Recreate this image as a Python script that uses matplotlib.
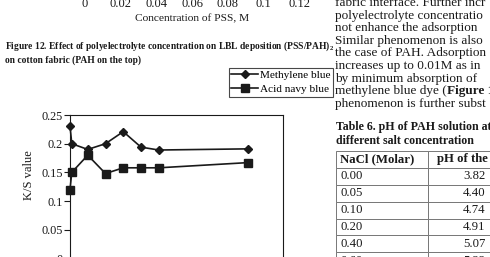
import matplotlib
matplotlib.use("Agg")
import matplotlib.pyplot as plt
from matplotlib.table import Table

plt.rcParams['font.family'] = ['Liberation Serif', 'DejaVu Serif']
plt.rcParams['mathtext.fontset'] = 'custom'
plt.rcParams['mathtext.rm'] = 'Liberation Serif'
plt.rcParams['mathtext.bf'] = 'Liberation Serif:bold'

# ---- data ----
conc = [0, 0.001, 0.01, 0.02, 0.03, 0.04, 0.05, 0.1]
methylene_blue = [0.231, 0.200, 0.190, 0.200, 0.221, 0.194, 0.189, 0.191]
acid_navy_blue = [0.120, 0.150, 0.180, 0.148, 0.158, 0.158, 0.158, 0.167]
y_ticks = [0, 0.05, 0.1, 0.15, 0.2, 0.25]
y_tick_labels = ["0", "0.05", "0.1", "0.15", "0.2", "0.25"]
top_x_ticks = [0, 0.02, 0.04, 0.06, 0.08, 0.1, 0.12]
top_x_labels = ["0", "0.02", "0.04", "0.06", "0.08", "0.1", "0.12"]
table_header = ["NaCl (Molar)", "pH of the PAH solution"]
nacl = ["0.00", "0.05", "0.10", "0.20", "0.40", "0.60"]
ph = ["3.82", "4.40", "4.74", "4.91", "5.07", "5.22"]
body_lines = [
    "fabric interface. Further incr",
    "polyelectrolyte concentratio",
    "not enhance the adsorption",
    "Similar phenomenon is also",
    "the case of PAH. Adsorption",
    "increases up to 0.01M as in",
    "by minimum absorption of",
    "methylene blue dye (Figure 1",
    "phenomenon is further subst",
]

W, H = 490, 257
fig = plt.figure(figsize=(W / 100, H / 100), dpi=100)
fig.patch.set_facecolor('white')

def box(l, t, r, b):
    return [l / W, 1 - b / H, (r - l) / W, (b - t) / H]

ink = '#1a1a1a'

# ---- page overlay for text ----
pg = fig.add_axes([0, 0, 1, 1])
pg.set_xlim(0, W)
pg.set_ylim(H, 0)
pg.axis('off')

# ---- remnant of previous figure (top) ----
top = fig.add_axes(box(85, -60, 299, -9))
top.set_xlim(0, 0.12)
top.set_xticks(top_x_ticks)
top.set_xticklabels(top_x_labels, fontsize=9, color=ink)
top.tick_params(axis='x', length=3, pad=2, color=ink)
top.set_yticks([])
for s in top.spines.values():
    s.set_visible(False)
top.patch.set_alpha(0)
pg.text(192, 19, "Concentration of PSS, M", fontsize=8.2, ha='center', va='center', color=ink)

# ---- caption ----
pg.text(5, 46.5, r"Figure 12. Effect of polyelectrolyte concentration on LBL deposition (PSS/PAH)$_\mathbf{2}$",
        fontsize=6.85, fontweight='bold', ha='left', va='center', color=ink)
pg.text(5, 60, "on cotton fabric (PAH on the top)", fontsize=6.85, fontweight='bold',
        ha='left', va='center', color=ink)

# ---- main chart ----
ax = fig.add_axes(box(70, 115, 283, 258.5))
ax.plot(conc, methylene_blue, color=ink, lw=1.2, marker='D', ms=4.2, label='Methylene blue')
ax.plot(conc, acid_navy_blue, color=ink, lw=1.2, marker='s', ms=5.5, label='Acid navy blue')
ax.set_xlim(0, 0.12)
ax.set_ylim(0, 0.25)
ax.set_yticks(y_ticks)
ax.set_yticklabels(y_tick_labels, fontsize=8.8, color=ink)
ax.set_xticks([])
ax.tick_params(axis='y', length=4, width=0.8, color=ink, pad=1)
for s in ax.spines.values():
    s.set_color(ink)
    s.set_linewidth(0.8)
ax.set_ylabel("K/S value", fontsize=9, color=ink)
ax.yaxis.set_label_coords(-0.164, 0.58)
for ln in ax.lines:
    ln.set_clip_on(False)

leg = fig.legend(loc='upper left', bbox_to_anchor=(229 / W, 1 - 68 / H), frameon=True,
                 fancybox=False, edgecolor=ink, fontsize=8.1, handlelength=2.4,
                 handletextpad=0.1, borderpad=0.22, labelspacing=0.35, borderaxespad=0)
leg.get_frame().set_linewidth(0.8)

# ---- body text (right column) ----
for i, line in enumerate(body_lines):
    y = 3 + 12.6 * i
    if "(Figure" in line:
        a, b = line.split("(Figure")
        t = pg.text(335, y, a + "(", fontsize=9.5, ha='left', va='center', color=ink)
        pg.annotate("Figure" + b, xycoords=t, xy=(1, 0.5), va='center', ha='left',
                    fontsize=9.5, fontweight='bold', color=ink)
    else:
        pg.text(335, y, line, fontsize=9.5, ha='left', va='center', color=ink)

pg.text(336, 127, "Table 6. pH of PAH solution at", fontsize=8.6, fontweight='bold',
        ha='left', va='center', color=ink)
pg.text(336, 141, "different salt concentration", fontsize=8.6, fontweight='bold',
        ha='left', va='center', color=ink)

# ---- table ----
row_h = 16.9
nrows = len(nacl) + 1
tax = fig.add_axes(box(336, 151, 520, 151 + row_h * nrows))
tax.axis('off')
tbl = Table(tax, bbox=[0, 0, 1, 1])
cw = [0.5, 0.5]
ch = 1 / nrows
for c, txt in enumerate(table_header):
    cell = tbl.add_cell(0, c, cw[c], ch, text=txt, loc='left')
    cell.get_text().set_fontweight('bold')
for r in range(len(nacl)):
    tbl.add_cell(r + 1, 0, cw[0], ch, text=nacl[r], loc='left')
    tbl.add_cell(r + 1, 1, cw[1], ch, text=ph[r], loc='center')
tbl.auto_set_font_size(False)
tbl.set_fontsize(9.2)
for (r, c), cell in tbl.get_celld().items():
    cell.set_edgecolor('#777777')
    cell.set_linewidth(0.7)
    cell.get_text().set_color(ink)
    cell.PAD = 0.1 if (r == 0 and c == 1) else 0.045
tax.add_table(tbl)

fig.savefig("out.png", dpi=100, facecolor='white')
